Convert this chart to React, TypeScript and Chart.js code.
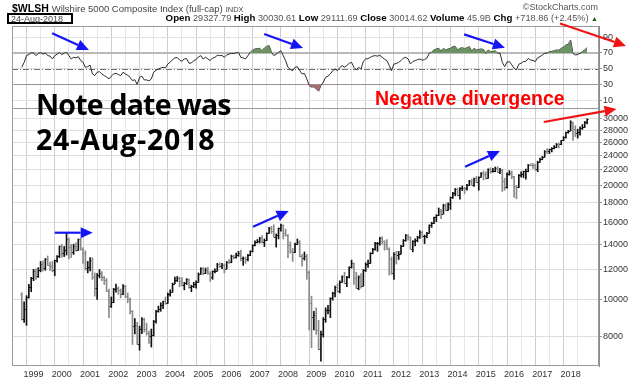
import React, { useEffect, useRef } from 'react';
import { Chart, registerables } from 'chart.js';

Chart.register(...registerables);

// Monthly bars, index 0 = Aug 1998, last = Aug 2018
const FIRST_MONTH = 'Aug 1998';
const JAN_1999_INDEX = 5;
const YEAR_LABELS = ['1999','2000','2001','2002','2003','2004','2005','2006','2007','2008','2009','2010','2011','2012','2013','2014','2015','2016','2017','2018'];

const OPEN = [
  10360, 8860, 9410, 10160, 10760,
  11370, 11900, 11520, 11960, 12420, 12110, 12770, 12360, 12280, 11930, 12680, 12990,
  13810, 13250, 13550, 14450, 13800, 13350, 13820, 13520, 14420, 13580, 13290, 12100,
  12180, 12700, 11470, 10730, 11620, 11740, 11450, 11260, 10540, 9630, 9860, 10650,
  10710, 10570, 10350, 10840, 10180, 10030, 9300, 8520, 8570, 7620, 8330, 8850,
  8340, 8130, 7990, 8060, 8760, 9300, 9450, 9660, 9880, 9760, 10350, 10480,
  11010, 11250, 11390, 11210, 10910, 11040, 11290, 10800, 10820, 10980, 11130, 11680,
  12120, 11750, 11980, 11750, 11450, 11860, 11910, 12400, 12260, 12350, 12070, 12560,
  12520, 12990, 12940, 13140, 13300, 12830, 12830, 12770, 13100, 13430, 13920, 14220,
  14260, 14530, 14210, 14350, 14970, 15460, 15180, 14630, 14810, 15420, 15730, 14960,
  14820, 13920, 13440, 13360, 13990, 14210, 12990, 12860, 13020, 11840, 9780, 9010,
  9090, 8300, 7390, 8100, 8900, 9380, 9380, 10070, 10410, 10780, 10520, 11120,
  11500, 11060, 11430, 12160, 12460, 11380, 10720, 11460, 10860, 11930, 12420, 12460,
  13290, 13570, 14070, 14120, 14520, 14260, 14000, 13630, 12800, 11770, 13160, 13090,
  13200, 13850, 14340, 14790, 14610, 13630, 14230, 14340, 14630, 15060, 14690, 14730,
  14960, 15730, 15900, 16480, 16700, 17120, 16870, 17780, 17230, 17830, 18620, 19140,
  19600, 18900, 19710, 19750, 19690, 20100, 20580, 20080, 20940, 20410, 21090, 21610,
  21520, 20950, 22100, 21820, 21900, 22230, 21770, 21990, 20510, 19870, 21520, 21640,
  21150, 19890, 19800, 21320, 21480, 21810, 21830, 22710, 22690, 22660, 22110, 23090,
  23510, 23820, 24700, 24690, 24920, 25080, 25320, 25820, 25710, 26330, 26910, 27670,
  27940, 29370, 28220, 27600, 27670, 28410, 28540, 29430
];
const HIGH = [
  10420, 9860, 10230, 10960, 11440,
  12010, 12050, 12130, 12600, 12640, 12830, 13030, 12560, 12600, 12700, 13050, 13850,
  14000, 13800, 15050, 14550, 14000, 14000, 14120, 14450, 14500, 13700, 13450, 12600,
  12900, 12880, 11750, 11700, 12000, 11850, 11500, 11350, 10650, 10150, 10700, 10970,
  10800, 10650, 10950, 10900, 10400, 10100, 9350, 8900, 8700, 8500, 8950, 8920,
  8650, 8250, 8350, 8800, 9350, 9600, 9800, 9900, 10150, 10400, 10600, 11050,
  11450, 11500, 11450, 11420, 11100, 11350, 11320, 10900, 11100, 11200, 11750, 12130,
  12130, 12100, 12150, 11850, 11900, 12050, 12450, 12500, 12450, 12400, 12600, 12750,
  13100, 13100, 13250, 13400, 13500, 12950, 12950, 13150, 13450, 13950, 14280, 14400,
  14600, 14750, 14450, 15000, 15500, 15600, 15750, 14900, 15450, 15810, 15750, 15350,
  14850, 14200, 13650, 14100, 14450, 14300, 13150, 13350, 13150, 11900, 10200, 9300,
  9500, 8800, 8250, 8950, 9500, 9650, 10100, 10450, 10850, 11000, 11200, 11550,
  11800, 11500, 12200, 12700, 12500, 11800, 11550, 11700, 12000, 12500, 12700, 13300,
  13650, 14150, 14150, 14600, 14650, 14300, 14400, 13700, 12950, 13300, 13400, 13400,
  13900, 14400, 14850, 14850, 14650, 14300, 14450, 14700, 15200, 15150, 14800, 15050,
  15750, 16000, 16500, 16750, 17450, 17300, 17850, 17900, 18000, 18650, 19200, 19650,
  19700, 19750, 19950, 19800, 20150, 20650, 20800, 20950, 21150, 21100, 21650, 21850,
  21750, 22150, 22300, 22200, 22400, 22450, 22200, 22100, 20900, 21600, 21900, 21850,
  21150, 20000, 21400, 21750, 21850, 22100, 22750, 22850, 22900, 22750, 23200, 23650,
  23900, 24750, 25050, 24980, 25200, 25500, 25850, 25900, 26350, 26950, 27700, 28000,
  29690, 29450, 28800, 28200, 28600, 29000, 29550, 30030
];
const LOW = [
  8820, 8690, 8540, 10070, 10480,
  11210, 11300, 11430, 11830, 11900, 11940, 12300, 11920, 11830, 11550, 12550, 12900,
  12930, 12980, 13100, 12800, 12900, 13150, 13400, 13480, 13500, 12450, 11950, 11750,
  11900, 11300, 10200, 10000, 11400, 11200, 10950, 10500, 8950, 9520, 9800, 10450,
  10300, 10100, 10300, 10100, 9800, 9150, 7600, 8100, 7600, 7340, 8120, 8200,
  8050, 7650, 7480, 8000, 8650, 9250, 9300, 9450, 9700, 9760, 10200, 10450,
  11000, 11150, 10800, 10850, 10600, 10950, 10700, 10480, 10750, 10700, 11100, 11650,
  11600, 11700, 11650, 11150, 11300, 11750, 11880, 12150, 12050, 11750, 12050, 12450,
  12500, 12800, 12850, 13000, 12650, 12300, 12450, 12650, 13050, 13350, 13850, 14100,
  14100, 14100, 13800, 14300, 14950, 14950, 14600, 13750, 14450, 15150, 14450, 14700,
  12900, 13250, 12600, 13300, 13950, 12950, 12250, 12700, 11300, 8300, 7450, 8300,
  8080, 7360, 6860, 7950, 8700, 9150, 8950, 9950, 10150, 10450, 10400, 11100,
  11000, 10800, 11400, 12100, 10950, 10700, 10600, 10700, 10850, 11850, 12150, 12450,
  13200, 13500, 13400, 13900, 14000, 13500, 13550, 11600, 11650, 11300, 12400, 12750,
  13200, 13800, 14250, 14350, 13600, 13350, 13850, 14200, 14500, 14600, 14050, 14550,
  14960, 15500, 15850, 16050, 16650, 16350, 16850, 17150, 17200, 17300, 18500, 18800,
  18800, 18400, 19400, 19050, 19450, 20000, 20050, 19900, 20350, 19450, 21050, 20700,
  20800, 20900, 21550, 21700, 21750, 21700, 21500, 19300, 19450, 19700, 21300, 20850,
  18600, 18450, 19750, 21050, 21000, 20800, 21750, 22550, 22200, 21950, 21750, 23050,
  23400, 23800, 24300, 24300, 24550, 25000, 25200, 25150, 25650, 26300, 26700, 27500,
  27950, 26340, 26950, 26700, 27200, 28150, 28500, 29100
];
const CLOSE = [
  8860, 9410, 10160, 10760, 11370,
  11900, 11520, 11960, 12420, 12110, 12770, 12360, 12280, 11930, 12680, 12990, 13810,
  13250, 13550, 14450, 13800, 13350, 13820, 13520, 14420, 13580, 13290, 12100, 12180,
  12700, 11470, 10730, 11620, 11740, 11450, 11260, 10540, 9630, 9860, 10650, 10710,
  10570, 10350, 10840, 10180, 10030, 9300, 8520, 8570, 7620, 8330, 8850, 8340,
  8130, 7990, 8060, 8760, 9300, 9450, 9660, 9880, 9760, 10350, 10480, 11010,
  11250, 11390, 11210, 10910, 11040, 11290, 10800, 10820, 10980, 11130, 11680, 12120,
  11750, 11980, 11750, 11450, 11860, 11910, 12400, 12260, 12350, 12070, 12560, 12520,
  12990, 12940, 13140, 13300, 12830, 12830, 12770, 13100, 13430, 13920, 14220, 14260,
  14530, 14210, 14350, 14970, 15460, 15180, 14630, 14810, 15420, 15730, 14960, 14820,
  13920, 13440, 13360, 13990, 14210, 12990, 12860, 13020, 11840, 9780, 9010, 9090,
  8300, 7390, 8100, 8900, 9380, 9380, 10070, 10410, 10780, 10520, 11120, 11500,
  11060, 11430, 12160, 12460, 11380, 10720, 11460, 10860, 11930, 12420, 12460, 13290,
  13570, 14070, 14120, 14520, 14260, 14000, 13630, 12800, 11770, 13160, 13090, 13200,
  13850, 14340, 14790, 14610, 13630, 14230, 14340, 14630, 15060, 14690, 14730, 14960,
  15730, 15900, 16480, 16700, 17120, 16870, 17780, 17230, 17830, 18620, 19140, 19600,
  18900, 19710, 19750, 19690, 20100, 20580, 20080, 20940, 20410, 21090, 21610, 21520,
  20950, 22100, 21820, 21900, 22230, 21770, 21990, 20510, 19870, 21520, 21640, 21150,
  19890, 19800, 21320, 21480, 21810, 21830, 22710, 22690, 22660, 22110, 23090, 23510,
  23820, 24700, 24690, 24920, 25080, 25320, 25820, 25710, 26330, 26910, 27670, 27940,
  29370, 28220, 27600, 27670, 28410, 28540, 29430, 30010
];
const RSI = [
  51.8, 58, 66.6, 68, 70.4,
  70.2, 66.6, 69.2, 70.5, 68.5, 70.1, 66.6, 66, 62.4, 66.6, 68.5, 70.7,
  67.8, 70, 70.9, 66.6, 62.4, 64.5, 63.8, 65.3, 60.3, 58.2, 51.8, 52.6,
  54.5, 43.3, 41.2, 45.5, 46.2, 43.3, 41.2, 39.5, 37, 40.5, 43.3, 44.2,
  42.5, 41.2, 45.5, 43.3, 41.5, 39.1, 34.8, 36, 29.8, 39.1, 40.5, 35.7,
  35.7, 34.5, 37, 45.5, 48, 49.7, 50.8, 51.8, 51.2, 56, 58.2, 61.5,
  63.7, 64.2, 61.1, 59.5, 62.4, 62.8, 56.9, 57.2, 60.3, 61.5, 65, 66.6,
  62.4, 64.5, 62.4, 60.3, 63.5, 64.5, 67, 66.6, 66.8, 64.5, 67.5, 68.7,
  69.5, 69.3, 70.3, 70.6, 64.5, 63.8, 62.4, 66.5, 70.9, 73.5, 75.1, 75.5,
  76, 72.9, 76.3, 78.5, 79.3, 70.9, 66.6, 68.5, 70.9, 72.9, 66.6, 60.3,
  51.8, 49, 47.5, 51.8, 52.5, 47.5, 43.3, 44, 37, 28.5, 26.5, 27,
  24.5, 21.4, 28.5, 32.8, 39.1, 40.5, 43.3, 47.5, 49.7, 47.5, 51.5, 53.9,
  51.8, 54, 56.9, 58, 51.8, 48.4, 51.8, 49.5, 59.5, 62.4, 62.8, 64.5,
  66, 66.6, 66, 67, 64.5, 62, 60.3, 54, 47.5, 56, 56.5, 58,
  60.3, 63.5, 64.5, 62.4, 56, 59, 60.3, 61.5, 62.4, 60.8, 61.5, 63.5,
  69.6, 71, 73.8, 75.1, 76, 72.5, 75.9, 73.8, 75.2, 75.9, 78, 78.5,
  73.8, 75.9, 76.7, 75.5, 76.8, 78, 72.5, 75.9, 73.8, 74.5, 75.1, 74.5,
  69.6, 73.8, 71.7, 72, 72.8, 69.6, 70, 58, 52.6, 58.5, 59, 55,
  50.6, 48.4, 55.7, 57, 59, 59.3, 63, 61.1, 60.5, 59, 64, 65.3,
  67.5, 69.6, 69.8, 71.7, 72, 72.8, 73.8, 73.5, 75.9, 77.5, 80.2, 81,
  86.5, 69.6, 67.5, 68, 69.6, 71.7, 74, 76.7
];

const RSI_TICKS = [10, 30, 50, 70, 90];
const RSI_OVERBOUGHT = 70;
const RSI_MID = 50;
const RSI_OVERSOLD = 30;
const PRICE_TICKS = [8000, 10000, 12000, 14000, 16000, 18000, 20000, 22000, 24000, 26000, 28000, 30000];

const BLUE = '#1414f5';
const RED = '#f01414';
// annotation arrows in data units: [monthIndex, value]
const ARROWS = [
  { axis: 'yR', from: [12.9, 95], to: [28.5, 73.8], color: BLUE },
  { axis: 'yR', from: [102.9, 94.1], to: [119.4, 76.3], color: BLUE },
  { axis: 'yR', from: [187.8, 93.7], to: [205.1, 76.7], color: BLUE },
  { axis: 'yR', from: [228.5, 107.5], to: [256.5, 79], color: RED },
  { axis: 'yP', from: [14.0, 15010], to: [30.1, 15010], color: BLUE },
  { axis: 'yP', from: [98.2, 15570], to: [113.3, 17130], color: BLUE },
  { axis: 'yP', from: [188.2, 22440], to: [203.0, 24690], color: BLUE },
  { axis: 'yP', from: [221.6, 29460], to: [252.5, 31880], color: RED },
];

const QUOTE = [
  ['Open', '29327.79'],
  ['High', '30030.61'],
  ['Low', '29111.69'],
  ['Close', '30014.62'],
  ['Volume', '45.9B'],
  ['Chg', '+718.86 (+2.45%)'],
];

const FONT = '"Liberation Sans", Arial, sans-serif';
const UP_COLOR = '#111111';
const DOWN_COLOR = '#8a8a8a';

function drawArrow(ctx: CanvasRenderingContext2D, x1: number, y1: number, x2: number, y2: number, color: string) {
  const head = 12, hw = 5.5;
  const a = Math.atan2(y2 - y1, x2 - x1);
  const bx = x2 - head * Math.cos(a), by = y2 - head * Math.sin(a);
  ctx.save();
  ctx.strokeStyle = color;
  ctx.fillStyle = color;
  ctx.lineWidth = 2.2;
  ctx.beginPath();
  ctx.moveTo(x1, y1);
  ctx.lineTo(bx, by);
  ctx.stroke();
  ctx.beginPath();
  ctx.moveTo(x2, y2);
  ctx.lineTo(bx + hw * Math.sin(a), by - hw * Math.cos(a));
  ctx.lineTo(bx - hw * Math.sin(a), by + hw * Math.cos(a));
  ctx.closePath();
  ctx.fill();
  ctx.restore();
}

const panelPlugin = {
  id: 'panelPlugin',
  beforeDatasetsDraw(chart: any) {
    const { ctx, chartArea } = chart;
    const yR = chart.scales.yR;
    const line = (v: number, color: string, w: number, dash: number[]) => {
      const y = Math.round(yR.getPixelForValue(v)) + (w % 2 ? 0.5 : 0);
      ctx.save();
      ctx.strokeStyle = color;
      ctx.lineWidth = w;
      ctx.setLineDash(dash);
      ctx.beginPath();
      ctx.moveTo(chartArea.left, y);
      ctx.lineTo(chartArea.right, y);
      ctx.stroke();
      ctx.restore();
    };
    line(RSI_OVERBOUGHT, '#b9b9b9', 2, []);
    line(RSI_OVERSOLD, '#9c9c9c', 1, []);
    line(RSI_MID, '#707070', 1, [6, 2, 1, 2]);
  },
  afterDatasetsDraw(chart: any) {
    const { ctx } = chart;
    const yP = chart.scales.yP;
    const meta = chart.getDatasetMeta(0);
    ctx.save();
    ctx.lineWidth = 1;
    meta.data.forEach((el: any, k: number) => {
      const x = el.x;
      const yo = Math.round(yP.getPixelForValue(OPEN[k])) + 0.5;
      const yc = Math.round(yP.getPixelForValue(CLOSE[k])) + 0.5;
      ctx.strokeStyle = CLOSE[k] >= OPEN[k] ? UP_COLOR : DOWN_COLOR;
      ctx.beginPath();
      ctx.moveTo(x - 1.5, yo);
      ctx.lineTo(x, yo);
      ctx.moveTo(x, yc);
      ctx.lineTo(x + 1.5, yc);
      ctx.stroke();
    });
    ctx.restore();
  },
  afterDraw(chart: any) {
    const { ctx, chartArea } = chart;
    const yR = chart.scales.yR;
    ctx.save();
    ctx.strokeStyle = '#9a9a9a';
    ctx.lineWidth = 1;
    ctx.strokeRect(chartArea.left + 0.5, chartArea.top + 0.5, chartArea.right - chartArea.left - 1, chartArea.bottom - chartArea.top - 1);
    const sep = Math.round(yR.bottom) + 0.5;
    ctx.beginPath();
    ctx.moveTo(chartArea.left, sep);
    ctx.lineTo(chartArea.right, sep);
    ctx.stroke();
    ctx.restore();
    const x = chart.scales.x;
    ARROWS.forEach((a) => {
      const ys = chart.scales[a.axis];
      drawArrow(ctx, x.getPixelForValue(a.from[0]), ys.getPixelForValue(a.from[1]), x.getPixelForValue(a.to[0]), ys.getPixelForValue(a.to[1]), a.color);
    });
  },
};

export default function App() {
  const ref = useRef<HTMLCanvasElement>(null);

  useEffect(() => {
    const gridMonths: number[] = [];
    YEAR_LABELS.forEach((_, n) => {
      gridMonths.push(JAN_1999_INDEX + 12 * n - 6, JAN_1999_INDEX + 12 * n);
    });
    const priceData = CLOSE.map((_, k) => ({ x: k, y: [LOW[k], HIGH[k]] }));
    const barColors = CLOSE.map((c, k) => (c >= OPEN[k] ? UP_COLOR : DOWN_COLOR));
    const rsiData = RSI.map((v, k) => ({ x: k, y: v }));
    const tickFont = { family: FONT, size: 9 };

    const chart = new Chart(ref.current as HTMLCanvasElement, {
      type: 'bar',
      data: {
        datasets: [
          {
            type: 'bar',
            label: FIRST_MONTH,
            data: priceData as any,
            yAxisID: 'yP',
            backgroundColor: barColors,
            borderWidth: 0,
            barThickness: 1,
          },
          {
            type: 'line',
            data: rsiData as any,
            yAxisID: 'yR',
            borderColor: 'rgba(0,0,0,0)',
            borderWidth: 1,
            pointRadius: 0,
            fill: { target: { value: RSI_OVERBOUGHT }, above: '#6b9262', below: 'rgba(0,0,0,0)' },
          },
          {
            type: 'line',
            data: rsiData as any,
            yAxisID: 'yR',
            borderColor: 'rgba(0,0,0,0)',
            borderWidth: 1,
            pointRadius: 0,
            fill: { target: { value: RSI_OVERSOLD }, above: 'rgba(0,0,0,0)', below: '#a86e6c' },
          },
          {
            type: 'line',
            data: rsiData as any,
            yAxisID: 'yR',
            borderColor: '#2a2a2a',
            borderWidth: 1,
            pointRadius: 0,
            fill: false,
          },
        ],
      } as any,
      options: {
        animation: false,
        responsive: false,
        maintainAspectRatio: false,
        layout: { padding: { left: 12, top: 26, right: 0, bottom: 0 } },
        plugins: { legend: { display: false }, tooltip: { enabled: false } },
        scales: {
          x: {
            type: 'linear',
            min: -1.035,
            max: 241.93,
            position: 'bottom',
            afterBuildTicks: (s: any) => {
              s.ticks = gridMonths.map((v) => ({ value: v }));
            },
            afterFit: (s: any) => {
              s.height = 16;
            },
            ticks: {
              autoSkip: false,
              maxRotation: 0,
              padding: 3,
              color: '#333',
              font: tickFont,
              callback: (v: any) => {
                const n = (Number(v) - JAN_1999_INDEX) / 12;
                return Number.isInteger(n) && n >= 0 ? YEAR_LABELS[n] : '';
              },
            },
            grid: {
              drawTicks: false,
              color: (c: any) => {
                const v = c.tick ? c.tick.value : 0;
                return (v - JAN_1999_INDEX) % 12 === 0 ? '#cdcdcd' : '#e6e6e6';
              },
            },
            border: { display: false },
          },
          yR: {
            type: 'linear',
            position: 'right',
            stack: 'panes',
            stackWeight: 82,
            min: 0,
            max: 104.3,
            afterBuildTicks: (s: any) => {
              s.ticks = RSI_TICKS.map((v) => ({ value: v }));
            },
            afterFit: (s: any) => {
              s.width = 41;
            },
            ticks: { autoSkip: false, color: '#333', font: tickFont, padding: 1, callback: (v: any) => String(v) },
            grid: { drawTicks: true, tickLength: 3, tickColor: '#999', color: '#e2e2e2' },
            border: { color: '#8c8c8c' },
          },
          yP: {
            type: 'logarithmic',
            position: 'right',
            stack: 'panes',
            stackWeight: 258,
            min: 6666,
            max: 32078,
            afterBuildTicks: (s: any) => {
              s.ticks = PRICE_TICKS.map((v) => ({ value: v }));
            },
            afterFit: (s: any) => {
              s.width = 41;
            },
            ticks: { autoSkip: false, color: '#333', font: tickFont, padding: 1, callback: (v: any) => String(v) },
            grid: { drawTicks: true, tickLength: 3, tickColor: '#999', color: '#dedede' },
            border: { color: '#8c8c8c' },
          },
        },
      } as any,
      plugins: [panelPlugin],
    });
    return () => chart.destroy();
  }, []);

  return (
    <div style={{ position: 'fixed', left: 0, top: 0, width: 640, height: 382, background: '#fff', overflow: 'hidden' }}>
      <canvas ref={ref} width={640} height={382} style={{ position: 'absolute', left: 0, top: 0, display: 'block' }} />
      <div style={{ position: 'absolute', left: 12, top: 2, font: `bold 10.5px ${FONT}`, lineHeight: '12px', color: '#000', whiteSpace: 'nowrap' }}>
        $WLSH{' '}
        <span style={{ fontWeight: 'normal', fontSize: 9.5, color: '#444' }}>Wilshire 5000 Composite Index (full-cap)</span>{' '}
        <span style={{ fontWeight: 'normal', fontSize: 7.5, color: '#444' }}>INDX</span>
      </div>
      <div style={{ position: 'absolute', right: 42, top: 1.5, font: `9px ${FONT}`, lineHeight: '10px', color: '#555', whiteSpace: 'nowrap' }}>
        ©StockCharts.com
      </div>
      <div style={{ position: 'absolute', left: 7, top: 13, width: 60, height: 7, border: '2px solid #000', font: `9px ${FONT}`, lineHeight: '8px', color: '#444', paddingLeft: 2, whiteSpace: 'nowrap' }}>
        24-Aug-2018
      </div>
      <div style={{ position: 'absolute', right: 42, top: 12, font: `9.2px ${FONT}`, lineHeight: '12px', color: '#555', whiteSpace: 'nowrap' }}>
        {QUOTE.map(([k, v]) => (
          <span key={k}>
            <b style={{ color: '#000', fontSize: 9.7 }}>{k}</b> {v}{' '}
          </span>
        ))}
        <span style={{ color: '#1a5a1a', fontSize: 7 }}>▲</span>
      </div>
      <div style={{ position: 'absolute', left: 36, top: 90, font: `bold 28.5px "Open Sans", sans-serif`, letterSpacing: '-0.8px', lineHeight: '29px', color: '#000', whiteSpace: 'nowrap' }}>
        Note date was
      </div>
      <div style={{ position: 'absolute', left: 36, top: 125, font: `bold 28.5px "Open Sans", sans-serif`, letterSpacing: '0.8px', lineHeight: '29px', color: '#000', whiteSpace: 'nowrap' }}>
        24-Aug-2018
      </div>
      <div style={{ position: 'absolute', left: 375, top: 88, font: `bold 19.5px ${FONT}`, lineHeight: '20px', color: '#f00', whiteSpace: 'nowrap' }}>
        Negative divergence
      </div>
    </div>
  );
}
